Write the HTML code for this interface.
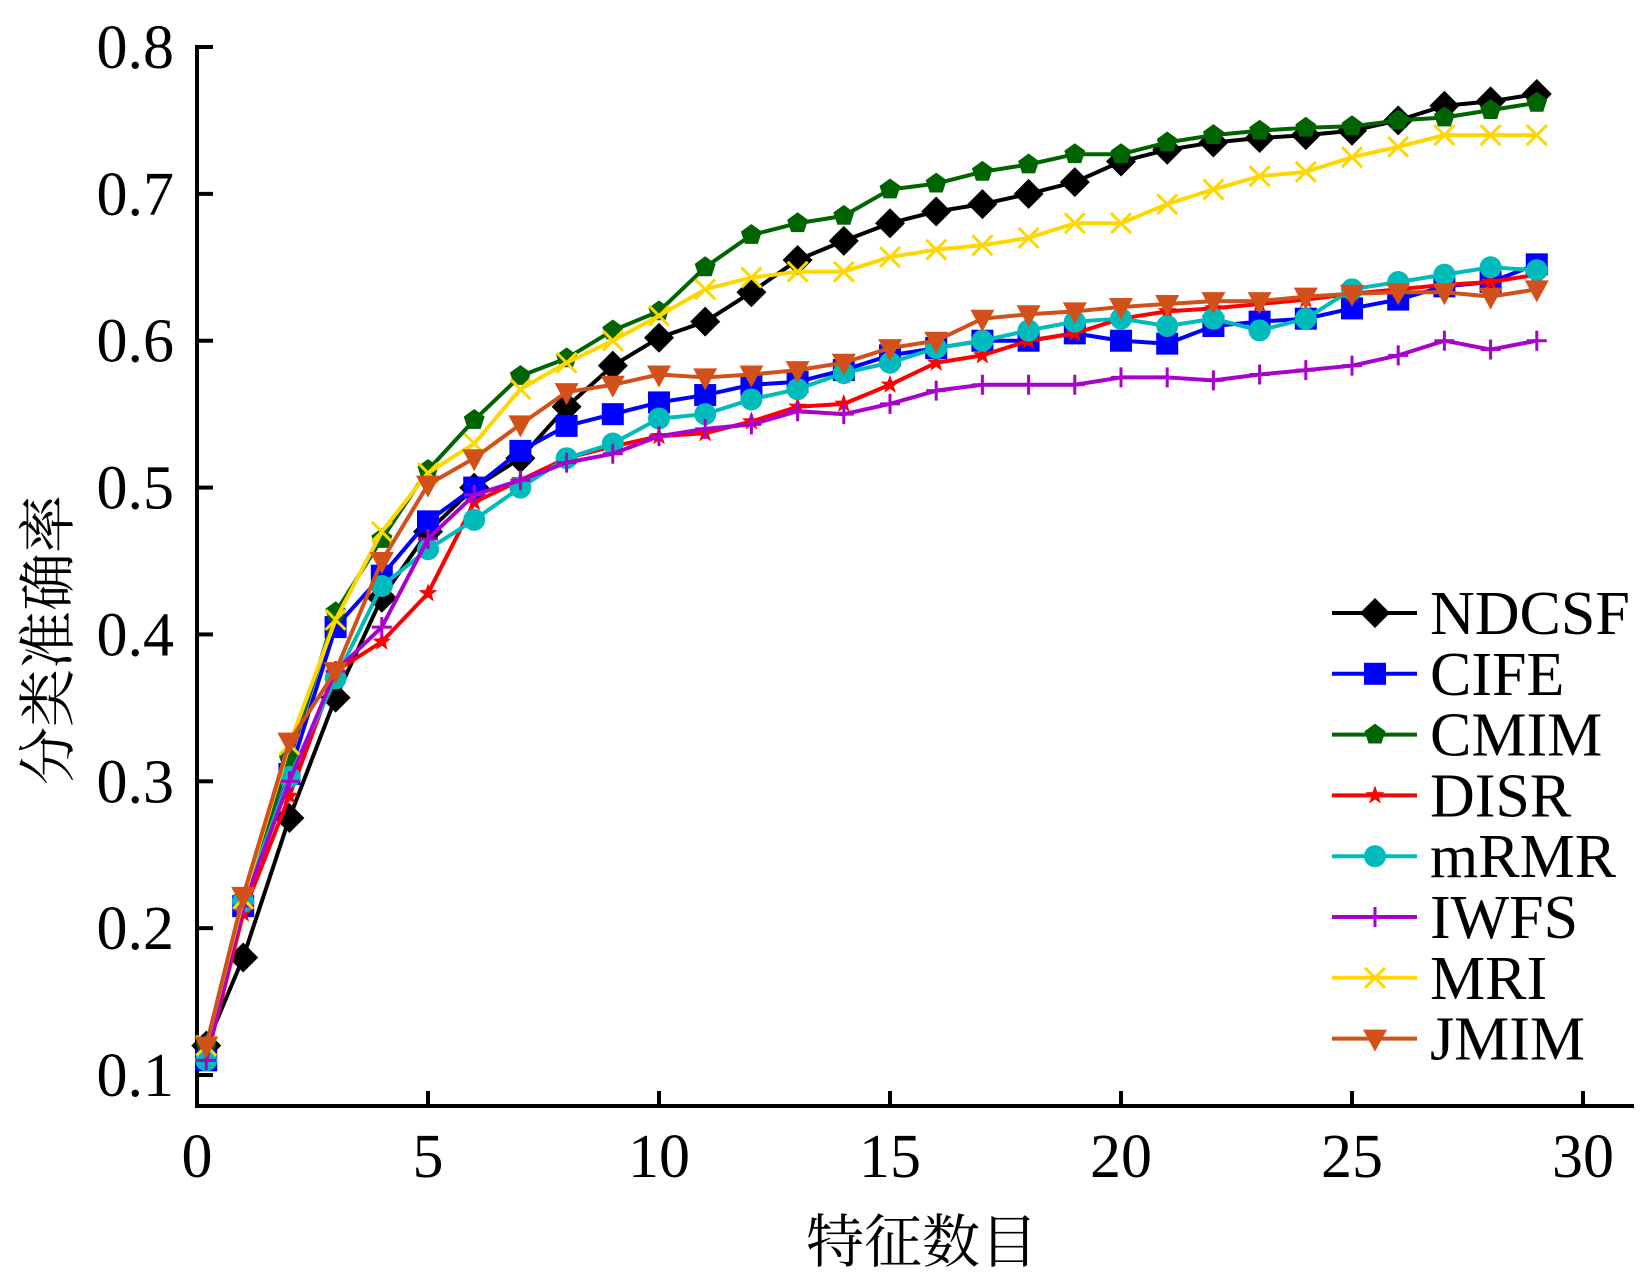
<!DOCTYPE html>
<html><head><meta charset="utf-8"><style>
html,body{margin:0;padding:0;background:#fff;}
svg{display:block;}
text{font-family:"Liberation Serif","Noto Serif CJK SC",serif;fill:#000;}
</style></head><body>
<svg id="chart" width="1644" height="1275" viewBox="0 0 1644 1275" xmlns="http://www.w3.org/2000/svg">
<g id="axes"></g>
<g id="series"></g>
<g id="legend"></g>
<text x="0" y="0" transform="translate(68,640) rotate(-90)" text-anchor="middle" font-size="58" style="font-family:'Noto Serif CJK SC','Noto Sans CJK SC',serif">分类准确率</text>
<text x="922" y="1262" text-anchor="middle" font-size="58" style="font-family:'Noto Serif CJK SC','Noto Sans CJK SC',serif">特征数目</text>
</svg>
<script>
const xTicks = [0,5,10,15,20,25,30];
const yTicks = [0.1,0.2,0.3,0.4,0.5,0.6,0.7,0.8];
const xVals = [0.2,1,2,3,4,5,6,7,8,9,10,11,12,13,14,15,16,17,18,19,20,21,22,23,24,25,26,27,28,29];
const seriesNames = ["NDCSF","CIFE","CMIM","DISR","mRMR","IWFS","MRI","JMIM"];
const ndcsf = [0.12,0.18,0.275,0.357,0.425,0.47,0.5,0.52,0.555,0.583,0.602,0.613,0.633,0.655,0.668,0.68,0.688,0.693,0.7,0.708,0.722,0.73,0.735,0.738,0.74,0.743,0.75,0.76,0.763,0.768];
const cife = [0.11,0.215,0.305,0.405,0.44,0.477,0.5,0.525,0.542,0.55,0.558,0.563,0.57,0.572,0.58,0.59,0.595,0.6,0.6,0.605,0.6,0.598,0.61,0.613,0.615,0.622,0.628,0.637,0.64,0.652];
const cmim = [0.12,0.22,0.315,0.415,0.465,0.512,0.546,0.576,0.588,0.607,0.62,0.65,0.672,0.68,0.685,0.703,0.707,0.715,0.72,0.727,0.727,0.735,0.74,0.743,0.745,0.746,0.75,0.752,0.757,0.762];
const disr = [0.11,0.21,0.29,0.375,0.395,0.428,0.49,0.505,0.52,0.528,0.535,0.537,0.545,0.555,0.557,0.57,0.585,0.59,0.6,0.605,0.615,0.62,0.622,0.625,0.628,0.632,0.635,0.638,0.64,0.645];
const mrmr = [0.11,0.218,0.303,0.37,0.433,0.458,0.478,0.5,0.52,0.53,0.547,0.55,0.56,0.567,0.578,0.585,0.595,0.6,0.607,0.613,0.615,0.61,0.615,0.607,0.615,0.635,0.64,0.645,0.65,0.648];
const iwfs = [0.11,0.215,0.3,0.375,0.405,0.465,0.495,0.505,0.517,0.523,0.535,0.54,0.543,0.552,0.55,0.557,0.566,0.57,0.57,0.57,0.575,0.575,0.573,0.577,0.58,0.583,0.59,0.6,0.594,0.6];
const mri = [0.12,0.22,0.325,0.41,0.47,0.51,0.53,0.567,0.585,0.6,0.617,0.635,0.643,0.647,0.647,0.657,0.662,0.665,0.67,0.68,0.68,0.693,0.703,0.712,0.715,0.725,0.732,0.74,0.74,0.74];
const jmim = [0.12,0.222,0.327,0.375,0.45,0.502,0.52,0.543,0.565,0.57,0.577,0.575,0.577,0.58,0.585,0.595,0.6,0.615,0.618,0.62,0.623,0.625,0.627,0.627,0.63,0.632,0.633,0.633,0.63,0.635];

const NS="http://www.w3.org/2000/svg";
const X0=197, XS=46.2, Y8=47, YS=1468.6, AXB=1106, AXR=1634;
function sx(v){return X0+v*XS;}
function sy(v){return Y8+(0.8-v)*YS;}
function mk(tag,attrs,parent){const e=document.createElementNS(NS,tag);for(const k in attrs)e.setAttribute(k,attrs[k]);parent.appendChild(e);return e;}

const axes=document.getElementById('axes');
let yl=mk('line',{x1:X0,y1:Y8-2,x2:X0,y2:AXB+2,stroke:'#000','stroke-width':4},axes);


let xl=mk('line',{x1:X0-2,y1:AXB,x2:AXR,y2:AXB,stroke:'#000','stroke-width':4},axes);


yTicks.forEach(t=>{
  const tk=mk('line',{x1:X0,y1:sy(t),x2:X0+16,y2:sy(t),stroke:'#000','stroke-width':4},axes);
  
  
  const tx=mk('text',{x:174,y:sy(t)+21,'text-anchor':'end','font-size':62},axes);
  tx.textContent=t.toFixed(1);
  
  
});
xTicks.forEach(t=>{
  if(t>0){const tk=mk('line',{x1:sx(t),y1:AXB,x2:sx(t),y2:AXB-15,stroke:'#000','stroke-width':4},axes);
  
  }
  const tx=mk('text',{x:sx(t),y:1177,'text-anchor':'middle','font-size':62},axes);
  tx.textContent=String(t);
  
  
});

const colors=['#000000','#0000ff','#006400','#ff0000','#00bbbb','#aa00cc','#ffd700','#d2501a'];
const shapes=['diamond','square','pentagon','star','circle','plus','cross','tri'];
const allData=[ndcsf,cife,cmim,disr,mrmr,iwfs,mri,jmim];
function marker(shape,x,y,c,g){
  let e;
  if(shape==='diamond') e=mk('polygon',{points:`${x},${y-15} ${x+15},${y} ${x},${y+15} ${x-15},${y}`,fill:c},g);
  else if(shape==='square') e=mk('rect',{x:x-11,y:y-11,width:22,height:22,fill:c},g);
  else if(shape==='pentagon'){let p=[];for(let i=0;i<5;i++){const a=-Math.PI/2+i*2*Math.PI/5;p.push((x+11*Math.cos(a))+','+(y+11*Math.sin(a)));}e=mk('polygon',{points:p.join(' '),fill:c},g);}
  else if(shape==='star'){let p=[];for(let i=0;i<10;i++){const r=i%2?4:10;const a=-Math.PI/2+i*Math.PI/5;p.push((x+r*Math.cos(a))+','+(y+r*Math.sin(a)));}e=mk('polygon',{points:p.join(' '),fill:c},g);}
  else if(shape==='circle') e=mk('circle',{cx:x,cy:y,r:11,fill:c},g);
  else if(shape==='plus') e=mk('path',{d:`M${x-10},${y}H${x+10}M${x},${y-10}V${y+10}`,stroke:c,'stroke-width':3},g);
  else if(shape==='cross') e=mk('path',{d:`M${x-10},${y-10}L${x+10},${y+10}M${x+10},${y-10}L${x-10},${y+10}`,stroke:c,'stroke-width':3},g);
  else e=mk('polygon',{points:`${x-12},${y-9} ${x+12},${y-9} ${x},${y+13}`,fill:c},g);
  return e;
}
const sg=document.getElementById('series');
allData.forEach((vals,i)=>{
  const g=mk('g',{},sg);
  
  
  const pts=vals.map((v,j)=>sx(xVals[j])+','+sy(v)).join(' ');
  const pl=mk('polyline',{points:pts,fill:'none',stroke:colors[i],'stroke-width':4,'stroke-linejoin':'round'},g);
  
  
  vals.forEach((v,j)=>{
    const m=marker(shapes[i],sx(xVals[j]),sy(v),colors[i],g);
    
    
  });
});
const lg=document.getElementById('legend');
seriesNames.forEach((n,i)=>{
  const y=613+i*60.8;
  const g=mk('g',{},lg);
  
  
  mk('line',{x1:1332,y1:y,x2:1417,y2:y,stroke:colors[i],'stroke-width':4},g);
  const sc = shapes[i]==='diamond'?1:1;
  marker(shapes[i],1375,y,colors[i],g);
  const t=mk('text',{x:1430,y:y+21,'font-size':62},g);
  t.textContent=n;
});
</script>
</body></html>
